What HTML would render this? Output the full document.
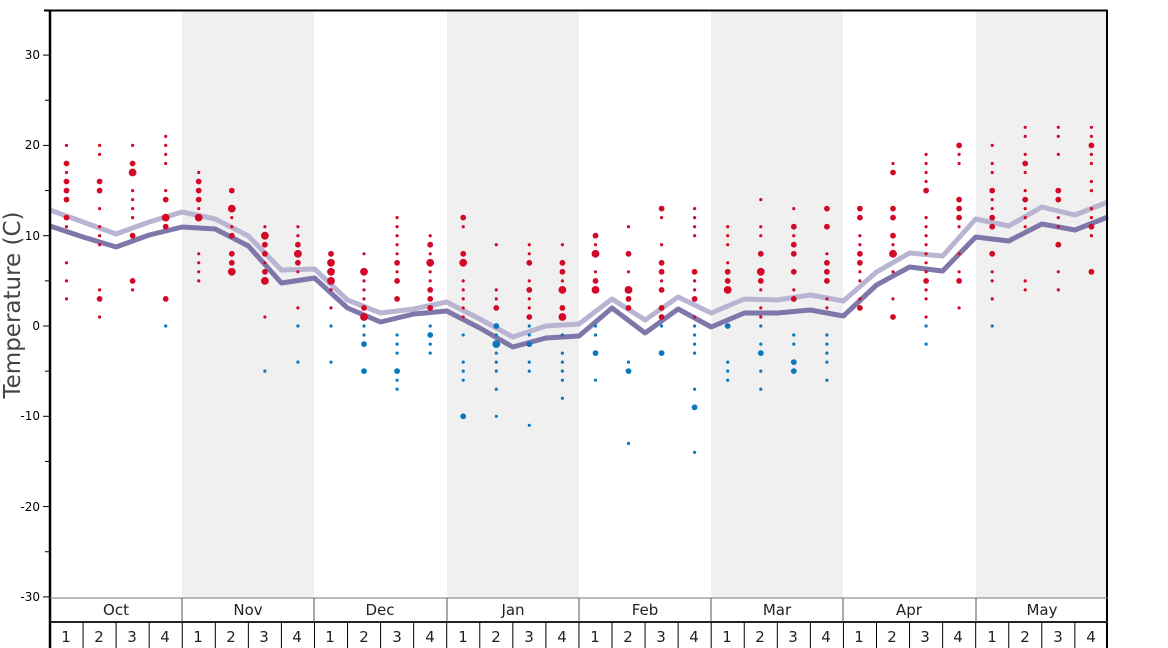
<!DOCTYPE html>
<html><head><meta charset="utf-8"><style>
html,body{margin:0;padding:0;background:#fff;}
svg{display:block;font-family:"DejaVu Sans","Liberation Sans",sans-serif;}
</style></head><body>
<svg id="s" width="1168" height="648" viewBox="0 0 1168 648" xmlns="http://www.w3.org/2000/svg">
<rect x="0" y="0" width="1168" height="648" fill="#fff"/>
<g fill="#f0f0f0">
<rect x="182" y="10" width="132" height="588"/>
<rect x="447" y="10" width="132" height="588"/>
<rect x="711" y="10" width="132" height="588"/>
<rect x="976" y="10" width="132" height="588"/>
</g>
<g id="lines"></g>
<g id="dots"></g>
<!-- frame -->
<line x1="44" y1="10.5" x2="1108" y2="10.5" stroke="#000" stroke-width="2"/>
<line x1="50" y1="9.5" x2="50" y2="648" stroke="#000" stroke-width="2.5"/>
<line x1="1107" y1="9.5" x2="1107" y2="648" stroke="#000" stroke-width="2"/>
<line x1="50" y1="598" x2="1108" y2="598" stroke="#777" stroke-width="1"/>
<line x1="50" y1="622" x2="1108" y2="622" stroke="#222" stroke-width="2"/>
<g stroke="#555" stroke-width="1">
<line x1="182" y1="598" x2="182" y2="622"/><line x1="314" y1="598" x2="314" y2="622"/>
<line x1="447" y1="598" x2="447" y2="622"/><line x1="579" y1="598" x2="579" y2="622"/>
<line x1="711" y1="598" x2="711" y2="622"/><line x1="843" y1="598" x2="843" y2="622"/>
<line x1="976" y1="598" x2="976" y2="622"/>
</g>
<g id="wk" stroke="#000" stroke-width="1"></g>
<g id="ticks" stroke="#000" stroke-width="1"></g>
<g font-size="12" fill="#000" text-anchor="end">
<text x="40" y="59">30</text><text x="40" y="149">20</text><text x="40" y="240">10</text>
<text x="40" y="330">0</text><text x="40" y="420">-10</text><text x="40" y="511">-20</text><text x="40" y="601">-30</text>
</g>
<g font-size="15" fill="#222" text-anchor="middle">
<text x="116" y="615">Oct</text><text x="248" y="615">Nov</text><text x="380" y="615">Dec</text><text x="513" y="615">Jan</text>
<text x="645" y="615">Feb</text><text x="777" y="615">Mar</text><text x="909" y="615">Apr</text><text x="1042" y="615">May</text>
</g>
<g font-size="15" fill="#222" text-anchor="middle">
<text x="66" y="642">1</text><text x="99" y="642">2</text><text x="132" y="642">3</text><text x="165" y="642">4</text>
<text x="198" y="642">1</text><text x="231" y="642">2</text><text x="264" y="642">3</text><text x="297" y="642">4</text>
<text x="330" y="642">1</text><text x="364" y="642">2</text><text x="397" y="642">3</text><text x="430" y="642">4</text>
<text x="463" y="642">1</text><text x="496" y="642">2</text><text x="529" y="642">3</text><text x="562" y="642">4</text>
<text x="595" y="642">1</text><text x="628" y="642">2</text><text x="661" y="642">3</text><text x="694" y="642">4</text>
<text x="727" y="642">1</text><text x="760" y="642">2</text><text x="793" y="642">3</text><text x="826" y="642">4</text>
<text x="859" y="642">1</text><text x="892" y="642">2</text><text x="925" y="642">3</text><text x="958" y="642">4</text>
<text x="992" y="642">1</text><text x="1025" y="642">2</text><text x="1058" y="642">3</text><text x="1091" y="642">4</text>
</g>
<text x="20" y="305" font-size="23" fill="#444" text-anchor="middle" transform="rotate(-90 20 305)">Temperature (C)</text>
</svg>
<script>
var NS="http://www.w3.org/2000/svg";
function el(p,t,a){var e=document.createElementNS(NS,t);for(var k in a)e.setAttribute(k,a[k]);p.appendChild(e);return e;}
var wk=document.getElementById("wk");
for(var i=1;i<32;i++){var x=50+33.06*i;el(wk,"line",{x1:x,y1:622,x2:x,y2:648});}
var tk=document.getElementById("ticks");
for(var v=-30;v<=35;v+=5){var y=326-9.03*v;el(tk,"line",{x1:(v%10==0?43:45),y1:y,x2:50,y2:y});}
var dark=[226,237,247,235,227,229,246,283,278,308,322,314,311,328,347,338,336,308,333,309,327,313,313,310,316,285,267,271,237,241,224,230,217];
var light=[210,222,234,222,212,219,236,270,269,300,313,309,302,319,337,326,324,299,320,297,313,299,300,295,301,272,253,256,219,226,207,215,202];
var L=document.getElementById("lines");
function pts(a){return a.map(function(y,k){return (50+33.06*k).toFixed(1)+","+y;}).join(" ");}
el(L,"polyline",{points:pts(light),fill:"none",stroke:"#b9b4d1","stroke-width":5,"stroke-linejoin":"round"});
el(L,"polyline",{points:pts(dark),fill:"none",stroke:"#7f77a9","stroke-width":5,"stroke-linejoin":"round"});
var D=["20s 18m 17s 16m 15m 14m 12m 11s 7s 5s 3s",
"20s 19s 16m 15m 13s 11s 10s 9s 4s 3m 1s",
"20s 18m 17L 15s 14s 13s 12s 10m 5m 4s",
"21s 20s 19s 18s 15s 14m 12L 11m 3m 0s",
"17s 16m 15m 14m 13s 12L 8s 7s 6s 5s",
"15m 13L 12s 11s 10m 8m 7m 6L",
"11s 10L 9m 8m 7s 6m 5L 1s -5s",
"11s 10s 9m 8L 7m 6s 2s 0s -4s",
"8m 7L 6L 5L 4s 2s 0s -4s",
"8s 6L 5s 4s 3s 2m 1L 0s -1s -2m -5m",
"12s 11s 10s 9s 8s 7m 6s 5m 3m -1s -2s -3s -5m -6s -7s",
"10s 9m 8s 7L 6s 5s 4m 3m 2m 0s -1m -2s -3s",
"12m 11s 8m 7L 5s 4s 3s 2s 1s -1s -4s -5s -6s -10m",
"9s 4s 3s 2m 0m -1s -2L -3s -4s -5s -7s -10s",
"9s 8s 7m 5s 4m 3s 2s 1m 0s -1s -2m -4s -5s -11s",
"9s 7m 6m 5s 4L 2m 1L -1s -3s -4s -5s -6s -8s",
"10m 9s 8L 6s 5m 4L 0s -1s -3m -6s",
"11s 8m 6s 4L 3m 2m -4s -5m -13s",
"13m 12s 9s 7m 6m 5s 4m 2m 1m 0s -3m",
"13s 12s 11s 10s 6m 5s 4s 3m 1s 0s -1s -2s -3s -7s -9m -14s",
"11s 10s 9s 7s 6m 5m 4L 0m -4s -5s -6s",
"14s 11s 10s 8m 6L 5m 4s 2s 1s 0s -2s -3m -5s -7s",
"13s 11m 10s 9m 8m 6m 4s 3m -1s -2s -4m -5m",
"13m 11m 8s 7m 6m 5m 3s 2s -1s -2s -3s -4s -6s",
"13m 12m 10s 9s 8m 7m 6s 5s 3s 2m",
"18s 17m 13m 12m 10m 9s 8L 6s 3s 1m",
"19s 18s 17s 16s 15m 12s 11s 10s 9s 8s 7s 6s 5m 4s 3s 1s 0s -2s",
"20m 19s 18s 14m 13m 12m 11s 8s 6s 5m 2s",
"20s 18s 17s 15m 14s 13s 12m 11m 8m 6s 5s 3s 0s",
"22s 21s 19s 18m 17s 15s 14m 13s 12s 11s 5s 4s",
"22s 21s 19s 15m 14m 12s 11s 9m 6s 4s",
"22s 21s 20m 19s 18s 16s 15s 13s 12s 11m 10s 6m"];
var G=document.getElementById("dots"),R={s:1.6,m:2.9,L:3.9};
D.forEach(function(str,i){var x=66.5+33.06*i;str.split(" ").forEach(function(t){var sz=t.slice(-1),v=parseFloat(t);
el(G,"circle",{cx:x.toFixed(1),cy:(326-9.03*v).toFixed(1),r:R[sz],fill:v<=0?"#0a78be":"#d20a28"});});});
</script>
</body></html>
